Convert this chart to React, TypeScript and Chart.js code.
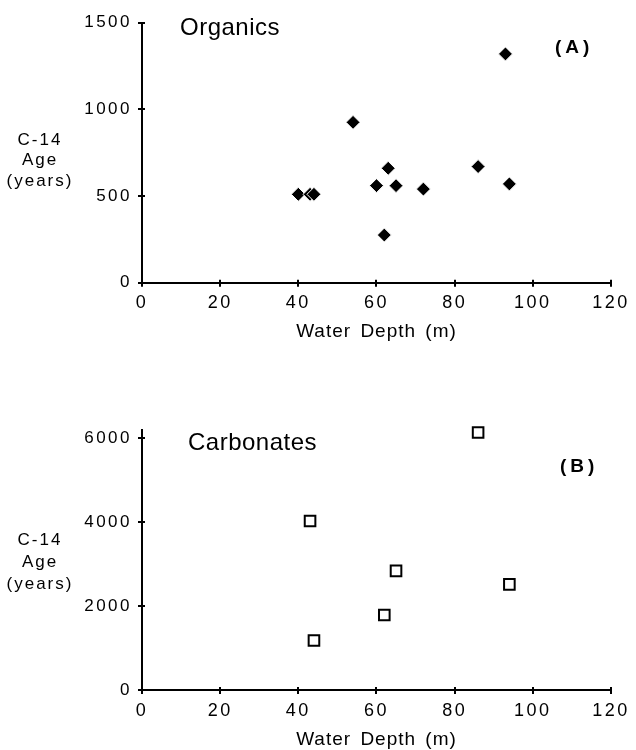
import React, { useEffect, useRef } from 'react';
import { Chart, registerables } from 'chart.js';

Chart.register(...registerables);

// Sample values: water depth (m) against radiocarbon age (years)
const depthTicks = [0, 20, 40, 60, 80, 100, 120];

const organicDepth = [40, 43, 44, 54, 60, 62, 63, 65, 72, 86, 93, 94];
const organicAge = [510, 510, 510, 925, 560, 275, 660, 560, 540, 670, 1320, 570];
const organicAgeTicks = [0, 500, 1000, 1500];

const carbonateDepth = [43, 44, 62, 65, 86, 94];
const carbonateAge = [4030, 1180, 1790, 2840, 6140, 2520];
const carbonateAgeTicks = [0, 2000, 4000, 6000];

const yTitleLines = ['C-14', 'Age', '(years)'];
const xTitle = 'Water Depth (m)';

const FONT = '"Liberation Sans", Arial, Helvetica, sans-serif';

type PanelSpec = {
  top: number;
  label: string;
  labelPos: [number, number];
  tag: string;
  tagPos: [number, number];
  depth: number[];
  age: number[];
  ageMax: number;
  ageTicks: number[];
  yTitleY: number[];
  xTitleY: number;
  areaTop: number;
  areaBottom: number;
  filled: boolean;
};

const PANEL_H = 375;
const AREA_LEFT = 142;
const AREA_RIGHT = 612;

function decorPlugin(spec: PanelSpec) {
  return {
    id: 'decor',
    beforeDraw(chart: any) {
      (chart.ctx as any).letterSpacing = '2.5px';
    },
    afterDraw(chart: any) {
      const { ctx, chartArea, scales } = chart;
      const xs = scales.x;
      const ys = scales.y;
      ctx.save();
      // short tick marks crossing both axes
      ctx.strokeStyle = '#000';
      ctx.lineWidth = 2;
      ctx.beginPath();
      xs.ticks.forEach((t: any) => {
        const px = Math.round(xs.getPixelForValue(t.value));
        ctx.moveTo(px, chartArea.bottom - 3);
        ctx.lineTo(px, chartArea.bottom + 4);
      });
      ys.ticks.forEach((t: any) => {
        const py = Math.round(ys.getPixelForValue(t.value));
        ctx.moveTo(chartArea.left - 4, py);
        ctx.lineTo(chartArea.left + 3, py);
      });
      ctx.stroke();

      ctx.fillStyle = '#000';

      // panel name inside the plot
      ctx.font = `24px ${FONT}`;
      ctx.letterSpacing = '0.5px';
      ctx.textAlign = 'left';
      ctx.textBaseline = 'alphabetic';
      ctx.fillText(spec.label, spec.labelPos[0], spec.labelPos[1]);

      // panel tag
      ctx.font = `bold 19px ${FONT}`;
      ctx.letterSpacing = '4px';
      ctx.fillText(spec.tag, spec.tagPos[0], spec.tagPos[1]);

      // y-axis title, three horizontal lines
      ctx.font = `17px ${FONT}`;
      ctx.letterSpacing = '2px';
      ctx.textAlign = 'center';
      ctx.textBaseline = 'middle';
      yTitleLines.forEach((line, i) => {
        ctx.fillText(line, 40, spec.yTitleY[i]);
      });

      // x-axis title
      ctx.font = `19px ${FONT}`;
      ctx.letterSpacing = '1px';
      ctx.wordSpacing = '3px';
      ctx.fillText(xTitle, (chartArea.left + chartArea.right) / 2, spec.xTitleY);
      ctx.restore();
    },
  };
}

function Panel({ spec }: { spec: PanelSpec }) {
  const ref = useRef<HTMLCanvasElement | null>(null);

  useEffect(() => {
    if (!ref.current) return;
    const points = spec.depth.map((x, i) => ({ x, y: spec.age[i] }));
    const chart = new Chart(ref.current, {
      type: 'scatter',
      data: {
        datasets: [
          {
            data: points,
            clip: false,
            pointStyle: spec.filled ? 'rectRot' : 'rect',
            pointRadius: spec.filled ? 7 : 7.5,
            pointHoverRadius: spec.filled ? 7 : 7.5,
            backgroundColor: spec.filled ? '#000' : '#fff',
            borderColor: spec.filled ? '#fff' : '#000',
            borderWidth: spec.filled ? 1 : 2,
          },
        ],
      },
      options: {
        animation: false,
        responsive: true,
        maintainAspectRatio: false,
        events: [],
        layout: {
          padding: { left: 0, top: spec.areaTop, right: 636 - AREA_RIGHT, bottom: 0 },
        },
        plugins: {
          legend: { display: false },
          tooltip: { enabled: false },
        },
        scales: {
          x: {
            type: 'linear',
            min: 0,
            max: 120,
            afterBuildTicks: (s: any) => {
              s.ticks = depthTicks.map((v) => ({ value: v }));
            },
            afterFit: (s: any) => {
              s.height = PANEL_H - spec.areaBottom;
            },
            grid: { display: false, drawTicks: false },
            border: { display: true, color: '#000', width: 2 },
            ticks: {
              color: '#000',
              font: { family: FONT, size: 18 },
              padding: 10,
              maxRotation: 0,
              autoSkip: false,
              callback: (v: any) => String(v),
            },
          },
          y: {
            type: 'linear',
            min: 0,
            max: spec.ageMax,
            afterBuildTicks: (s: any) => {
              s.ticks = spec.ageTicks.map((v) => ({ value: v }));
            },
            afterFit: (s: any) => {
              s.width = AREA_LEFT;
            },
            grid: { display: false, drawTicks: false },
            border: { display: true, color: '#000', width: 2 },
            ticks: {
              color: '#000',
              font: { family: FONT, size: 17 },
              padding: 10,
              autoSkip: false,
              callback: (v: any) => String(v),
            },
          },
        },
      } as any,
      plugins: [decorPlugin(spec)],
    });
    return () => chart.destroy();
  }, [spec]);

  return (
    <div
      style={{
        position: 'absolute',
        left: 0,
        top: spec.top,
        width: 636,
        height: PANEL_H,
      }}
    >
      <canvas ref={ref} />
    </div>
  );
}

const organicsPanel: PanelSpec = {
  top: 0,
  label: 'Organics',
  labelPos: [180, 35],
  tag: '(A)',
  tagPos: [555, 53],
  depth: organicDepth,
  age: organicAge,
  ageMax: 1500,
  ageTicks: organicAgeTicks,
  yTitleY: [140, 160, 181],
  xTitleY: 332,
  areaTop: 22.7,
  areaBottom: 282.7,
  filled: true,
};

const carbonatesPanel: PanelSpec = {
  top: 375,
  label: 'Carbonates',
  labelPos: [188, 75],
  tag: '(B)',
  tagPos: [560, 97],
  depth: carbonateDepth,
  age: carbonateAge,
  ageMax: 6200,
  ageTicks: carbonateAgeTicks,
  yTitleY: [165, 187, 209],
  xTitleY: 365,
  areaTop: 55,
  areaBottom: 315,
  filled: false,
};

export default function App() {
  return (
    <div>
      <Panel spec={organicsPanel} />
      <Panel spec={carbonatesPanel} />
    </div>
  );
}
